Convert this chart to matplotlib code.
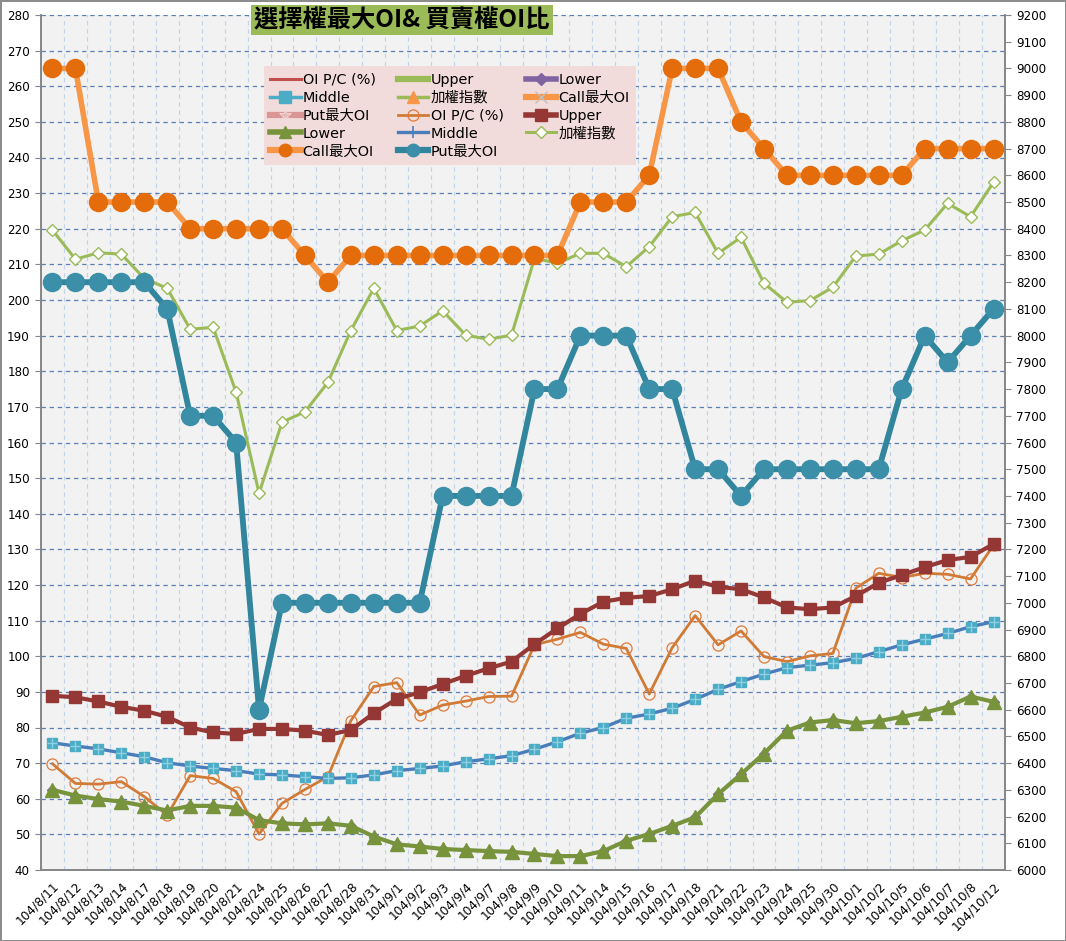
import matplotlib
matplotlib.use("Agg")
import matplotlib.pyplot as plt
from matplotlib.lines import Line2D
import numpy as np

plt.rcParams['font.family'] = ['DejaVu Sans', 'Noto Sans CJK TC']

dates = ['104/8/11','104/8/12','104/8/13','104/8/14','104/8/17','104/8/18','104/8/19','104/8/20',
         '104/8/21','104/8/24','104/8/25','104/8/26','104/8/27','104/8/28','104/8/31','104/9/1',
         '104/9/2','104/9/3','104/9/4','104/9/7','104/9/8','104/9/9','104/9/10','104/9/11',
         '104/9/14','104/9/15','104/9/16','104/9/17','104/9/18','104/9/21','104/9/22','104/9/23',
         '104/9/24','104/9/25','104/9/30','104/10/1','104/10/2','104/10/5','104/10/6','104/10/7',
         '104/10/8','104/10/12']

oi_pc = [69.8,64.3,64.1,64.8,60.6,55.4,66.5,65.7,62.0,50.1,58.7,62.6,66.2,81.9,91.5,92.6,83.5,86.3,
         87.4,88.7,88.8,103.2,104.8,106.7,103.4,102.2,89.4,102.4,111.4,103.2,107.1,99.9,98.5,100.1,
         100.8,119.1,123.3,122.1,123.3,123.0,121.7,131.2]
upper = [88.9,88.5,87.3,85.8,84.7,83.0,80.0,78.6,78.2,79.6,79.6,79.1,77.9,79.3,84.0,88.0,89.9,92.2,
         94.5,96.6,98.5,103.4,107.8,111.9,115.3,116.4,116.9,118.8,121.2,119.5,118.8,116.5,113.7,113.2,
         113.7,116.9,120.6,122.8,125.0,127.0,127.9,131.5]
middle = [75.7,74.8,74.0,72.9,71.8,70.1,69.2,68.5,67.9,66.9,66.7,66.2,65.7,65.9,66.7,67.9,68.5,69.2,
          70.4,71.2,72.1,73.9,76.0,78.4,80.0,82.6,83.8,85.4,87.9,90.7,92.9,95.0,96.8,97.5,98.2,99.4,
          101.3,103.2,104.8,106.4,108.3,109.7]
lower = [62.5,60.9,59.9,59.2,58.0,56.7,58.0,58.0,57.5,54.0,53.1,52.8,53.1,52.4,49.4,47.2,46.6,45.9,
         45.6,45.3,45.1,44.5,43.9,43.9,45.3,48.2,50.1,52.4,54.8,61.3,66.9,72.7,79.1,81.4,82.1,81.2,
         81.8,83.0,84.2,85.8,88.7,87.2]
taiex = [8395,8286,8310,8305,8214,8177,8024,8031,7788,7410,7676,7715,7825,8019,8177,8019,8036,8093,
         8002,7986,8002,8289,8271,8308,8308,8258,8333,8445,8461,8308,8368,8196,8125,8131,8181,8298,
         8305,8355,8395,8495,8445,8574]
call_max = [9000,9000,8500,8500,8500,8500,8400,8400,8400,8400,8400,8300,8200,8300,8300,8300,8300,8300,
            8300,8300,8300,8300,8300,8500,8500,8500,8600,9000,9000,9000,8800,8700,8600,8600,8600,8600,
            8600,8600,8700,8700,8700,8700]
put_max = [8200,8200,8200,8200,8200,8100,7700,7700,7600,6600,7000,7000,7000,7000,7000,7000,7000,7400,
           7400,7400,7400,7800,7800,8000,8000,8000,7800,7800,7500,7500,7400,7500,7500,7500,7500,7500,
           7500,7800,8000,7900,8000,8100]

title = '選擇權最大OI& 買賣權OI比'
left_ticks = list(range(40, 281, 10))
right_ticks = list(range(6000, 9201, 100))

W, H = 1066, 941
fig = plt.figure(figsize=(W/100, H/100), dpi=100)
fig.patch.set_facecolor('white')
fig.patch.set_edgecolor('#8c8c8c')
fig.patch.set_linewidth(2)

ax = fig.add_axes([41/W, 1-870/H, 964/W, 855/H])
ax.set_facecolor('#F2F2F2')
ax2 = ax.twinx()

x = np.arange(len(dates))
ax.set_xlim(-0.5, len(dates)-0.5)
ax.set_ylim(40, 280)
ax2.set_ylim(6000, 9200)

# grid
ax.set_yticks(left_ticks)
ax.set_yticklabels([str(v) for v in left_ticks])
ax.yaxis.grid(True, linestyle=(0, (3.5, 3)), color='#5B7DB5', linewidth=0.9)
ax.set_xticks(x)
ax.set_xticklabels(dates, rotation=45, ha='right', va='top', rotation_mode='anchor', fontsize=8.7)
ax.set_xticks(np.arange(-0.5, len(dates), 1), minor=True)
ax.xaxis.grid(True, which='minor', linestyle=(0, (3.5, 3)), color='#C3D3E8', linewidth=0.9)
ax.tick_params(axis='x', which='major', length=0, pad=7)
ax.tick_params(axis='x', which='minor', length=0)
ax.tick_params(axis='y', length=4, color='#868686', labelsize=8.6, pad=4)
ax.set_axisbelow(True)
ax2.set_yticks(right_ticks)
ax2.set_yticklabels([str(v) for v in right_ticks])
ax2.tick_params(axis='y', length=4, color='#868686', labelsize=8.6, pad=4)

for a in (ax, ax2):
    a.spines['top'].set_visible(False)
    for s in ('left', 'right', 'bottom'):
        a.spines[s].set_color('#868686')
        a.spines[s].set_linewidth(1.2)

# primary axis series
ax.plot(x, oi_pc, color='#D07B35', lw=2.0, marker='o', ms=8, mfc='none', mec='#E07A3A', mew=0.9, zorder=3)
ax.plot(x, upper, color='#953735', lw=3.0, marker='s', ms=9, mfc='#953735', mec='#953735', zorder=4)
ax.plot(x, lower, color='#8064A2', lw=1.5, marker='D', ms=5, mfc='#8064A2', mec='#8064A2', zorder=4)
ax.plot(x, lower, color='#77933C', lw=3.0, marker='^', ms=10, mfc='#77933C', mec='#77933C', zorder=5)
ax.plot(x, middle, color='#4A7EBB', lw=2.4, marker='s', ms=7, mfc='#4BACC6', mec='#4BACC6', zorder=4)
ax.plot(x, middle, lw=0, marker='+', ms=7, mec='#8FCFE2', mew=1.0, zorder=4.5)

# secondary axis series
ax2.plot(x, taiex, color='#9BBB59', lw=2.2, marker='D', ms=6, mfc='white', mec='#9BBB59', mew=1.0, zorder=3)
ax2.plot(x, call_max, color='#F79646', lw=4.0, marker='o', ms=13, mfc='#E46C0A', mec='#E46C0A', zorder=4)
ax2.plot(x, put_max, color='#31859C', lw=4.2, marker='o', ms=13, mfc='#3B8FA8', mec='#3B8FA8', zorder=4)

# legend proxies (Excel order, row-wise)
h = [
    Line2D([], [], color='#C0504D', lw=2.2),
    Line2D([], [], color='#9BBB59', lw=4.5),
    Line2D([], [], color='#8064A2', lw=4.0, marker='D', ms=6, mfc='#8064A2', mec='#8064A2'),
    Line2D([], [], color='#4BACC6', lw=2.5, marker='s', ms=8, mfc='#4BACC6', mec='#4BACC6'),
    Line2D([], [], color='#9BBB59', lw=2.5, marker='^', ms=8, mfc='#F79646', mec='#F79646'),
    Line2D([], [], color='#F79646', lw=4.5, marker='x', ms=8, mec='#BFBFBF', mew=1.0),
    Line2D([], [], color='#D99694', lw=4.5, marker='*', ms=9, mfc='#E6B9B8', mec='#F2DCDB', mew=0.6),
    Line2D([], [], color='#D07B35', lw=2.0, marker='o', ms=8, mfc='none', mec='#E07A3A', mew=0.9),
    Line2D([], [], color='#953735', lw=4.0, marker='s', ms=9, mfc='#953735', mec='#953735'),
    Line2D([], [], color='#77933C', lw=4.0, marker='^', ms=9, mfc='#77933C', mec='#77933C'),
    Line2D([], [], color='#4A7EBB', lw=2.4, marker='+', ms=9, mec='#4A7EBB', mew=1.2),
    Line2D([], [], color='#9BBB59', lw=2.2, marker='D', ms=6, mfc='white', mec='#9BBB59', mew=1.0),
    Line2D([], [], color='#F79646', lw=4.5, marker='o', ms=9, mfc='#E46C0A', mec='#E46C0A'),
    Line2D([], [], color='#31859C', lw=4.5, marker='o', ms=9, mfc='#3B8FA8', mec='#3B8FA8'),
]
labels = ['OI P/C (%)', 'Upper', 'Lower', 'Middle', '加權指數', 'Call最大OI', 'Put最大OI',
          'OI P/C (%)', 'Upper', 'Lower', 'Middle', '加權指數', 'Call最大OI', 'Put最大OI']
order = [0, 3, 6, 9, 12, 1, 4, 7, 10, 13, 2, 5, 8, 11]
leg = ax2.legend([h[i] for i in order], [labels[i] for i in order], ncol=3,
                 loc='upper left', bbox_to_anchor=(0.231, 0.940),
                 frameon=True, fancybox=False, facecolor='#F2DCDB', edgecolor='none', framealpha=1,
                 fontsize=10.4, handlelength=2.1, handletextpad=0.15, columnspacing=1.55,
                 labelspacing=0.27, borderpad=0.45, borderaxespad=0)
leg.set_zorder(10)

fig.text(402/W, 1-20/H, title, ha='center', va='center', fontsize=17.5, fontweight='bold',
         family=['Noto Sans CJK TC', 'DejaVu Sans'],
         bbox=dict(boxstyle='square,pad=0.12', facecolor='#9BBB59', edgecolor='none'))

fig.savefig('out.png', dpi=100, facecolor=fig.get_facecolor(), edgecolor=fig.get_edgecolor())
